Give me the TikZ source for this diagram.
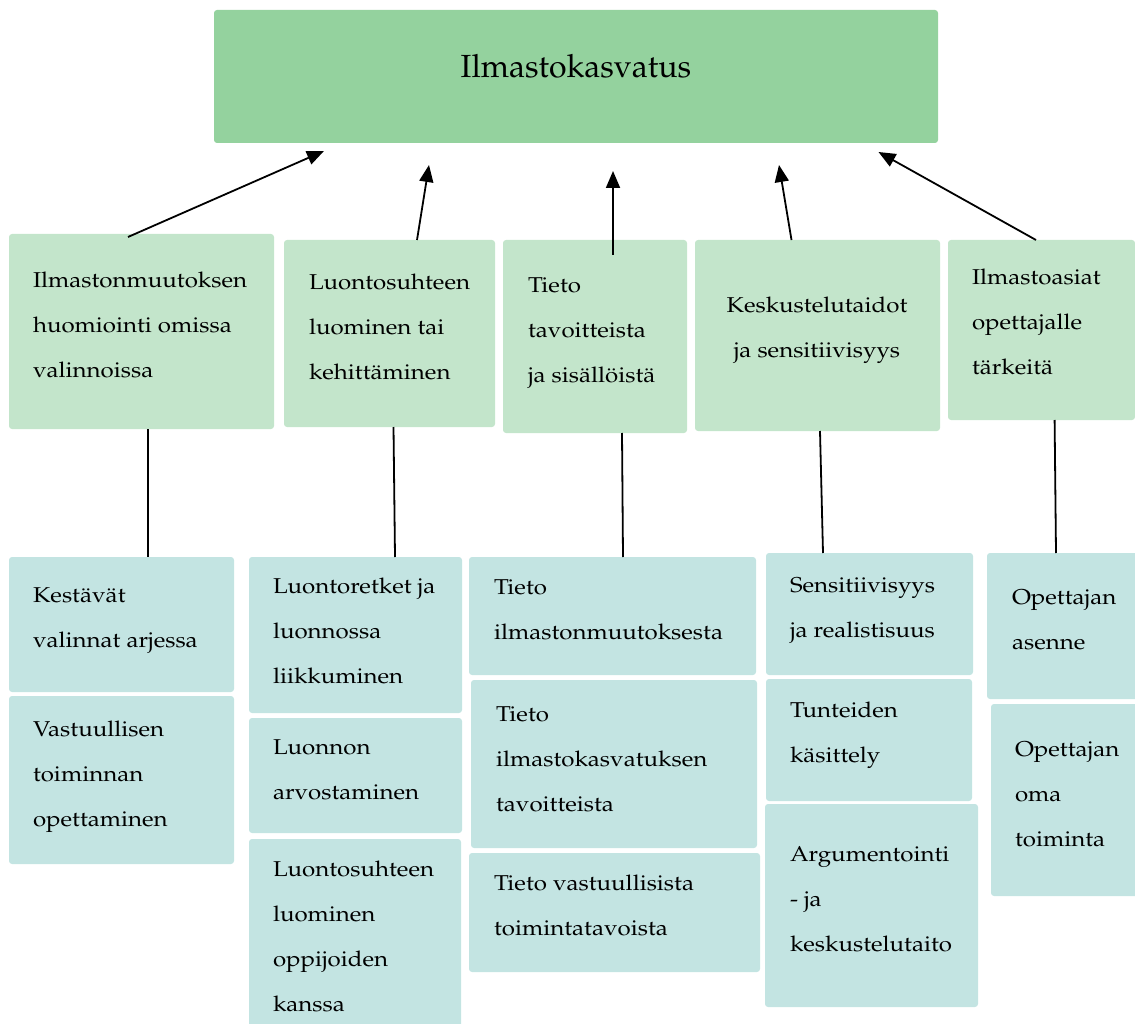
\documentclass[tikz,border=0pt]{standalone}
\usepackage[T1]{fontenc}
\usepackage{graphicx}
\renewcommand{\rmdefault}{ppl}
\usetikzlibrary{arrows.meta}
\definecolor{topgreen}{RGB}{148,210,158}
\definecolor{midgreen}{RGB}{195,229,203}
\definecolor{lowteal}{RGB}{195,228,226}
\tikzset{
  boxbase/.style={rounded corners=3pt, inner sep=0pt, outer sep=0pt, draw=none},
  topbox/.style={boxbase, fill=topgreen},
  catbox/.style={boxbase, fill=midgreen},
  itembox/.style={boxbase, fill=lowteal},
  txt/.style={anchor=north west, inner sep=0pt, outer sep=0pt, font=\fontsize{21.5}{44.7}\selectfont},
  ctxt/.style={txt, anchor=north},
  conn/.style={line width=1.8pt, black},
  arr/.style={conn, -{Triangle[length=17pt,width=14pt]}}
}
\newcommand{\tl}[1]{\scalebox{1.12}[1]{\begin{tabular}{@{}l@{}}#1\end{tabular}}}
\newcommand{\tc}[1]{\scalebox{1.12}[1]{\begin{tabular}{@{}c@{}}#1\end{tabular}}}
\begin{document}
\begin{tikzpicture}[x=1pt,y=-1pt]
\path[use as bounding box, clip] (0,0) rectangle (1135,1024);
% top
\node[topbox, minimum width=724pt, minimum height=133pt] (top) at (576,76.5) {};
\node[anchor=base, inner sep=0pt, font=\fontsize{32}{38}\selectfont] (toptxt) at (576,78) {Ilmastokasvatus};
% row 1
\node[catbox, minimum width=265pt, minimum height=195pt] (c1) at (141.5,331.5) {};
\node[catbox, minimum width=211pt, minimum height=187pt] (c2) at (389.5,333.5) {};
\node[catbox, minimum width=184pt, minimum height=193pt] (c3) at (595,336.5) {};
\node[catbox, minimum width=245pt, minimum height=191pt] (c4) at (817.5,335.5) {};
\node[catbox, minimum width=187pt, minimum height=180pt] (c5) at (1041.5,330) {};
\node[txt] (tc1) at (33,256.7) {\tl{Ilmastonmuutoksen\\huomiointi omissa\\valinnoissa}};
\node[txt] (tc2) at (309,258.7) {\tl{Luontosuhteen\\luominen tai\\kehittäminen}};
\node[txt] (tc3) at (528,261.7) {\tl{Tieto\\tavoitteista\\ja sisällöistä}};
\node[ctxt] (tc4) at (817,281.7) {\tc{Keskustelutaidot\\ja sensitiivisyys}};
\node[txt] (tc5) at (972,253.7) {\tl{Ilmastoasiat\\opettajalle\\tärkeitä}};
% row 2
\node[itembox, minimum width=225pt, minimum height=135pt] (a1) at (121.5,624.5) {};
\node[itembox, minimum width=225pt, minimum height=168pt] (a2) at (121.5,780) {};
\node[itembox, minimum width=213pt, minimum height=156pt] (b1) at (355.5,635) {};
\node[itembox, minimum width=213pt, minimum height=115pt] (b2) at (355.5,775.5) {};
\node[itembox, minimum width=212pt, minimum height=201pt] (b3) at (355,939.5) {};
\node[itembox, minimum width=287pt, minimum height=118pt] (d1) at (612.5,616) {};
\node[itembox, minimum width=286pt, minimum height=168pt] (d2) at (614,764) {};
\node[itembox, minimum width=291pt, minimum height=119pt] (d3) at (614.5,912.5) {};
\node[itembox, minimum width=207pt, minimum height=122pt] (e1) at (869.5,614) {};
\node[itembox, minimum width=206pt, minimum height=122pt] (e2) at (869,740) {};
\node[itembox, minimum width=213pt, minimum height=203pt] (e3) at (871.5,905.5) {};
\node[itembox, minimum width=153pt, minimum height=146pt] (f1) at (1063.5,626) {};
\node[itembox, minimum width=149pt, minimum height=192pt] (f2) at (1065.5,800) {};
\node[txt] (ta1) at (33,571.7) {\tl{Kestävät\\valinnat arjessa}};
\node[txt] (ta2) at (33,705.7) {\tl{Vastuullisen\\toiminnan\\opettaminen}};
\node[txt] (tb1) at (273,562.7) {\tl{Luontoretket ja\\luonnossa\\liikkuminen}};
\node[txt] (tb2) at (273,723.7) {\tl{Luonnon\\arvostaminen}};
\node[txt] (tb3) at (273,845.7) {\tl{Luontosuhteen\\luominen\\oppijoiden\\kanssa}};
\node[txt] (td1) at (494,563.7) {\tl{Tieto\\ilmastonmuutoksesta}};
\node[txt] (td2) at (496,690.7) {\tl{Tieto\\ilmastokasvatuksen\\tavoitteista}};
\node[txt] (td3) at (494,859.7) {\tl{Tieto vastuullisista\\toimintatavoista}};
\node[txt] (te1) at (790,561.7) {\tl{Sensitiivisyys\\ja realistisuus}};
\node[txt] (te2) at (790,686.7) {\tl{Tunteiden\\käsittely}};
\node[txt] (te3) at (790,830.7) {\tl{Argumentointi\\- ja\\keskustelutaito}};
\node[txt] (tf1) at (1012,573.7) {\tl{Opettajan\\asenne}};
\node[txt] (tf2) at (1015,725.7) {\tl{Opettajan\\oma\\toiminta}};
% arrow tips
\coordinate (h1) at (324,151);
\coordinate (h2) at (429,165);
\coordinate (h3) at (613,171);
\coordinate (h4) at (779,165);
\coordinate (h5) at (878.5,152);
\draw[arr] ([xshift=119pt,yshift=-3pt]c1.north west) -- (h1);
\draw[arr] ([xshift=133pt]c2.north west) -- (h2);
\draw[arr] ([xshift=110pt,yshift=-15pt]c3.north west) -- (h3);
\draw[arr] ([xshift=96.5pt]c4.north west) -- (h4);
\draw[arr] ([xshift=88pt]c5.north west) -- (h5);
% lines
\draw[conn] ([xshift=139pt]c1.south west) -- ([xshift=139pt]a1.north west);
\draw[conn] ([xshift=109.5pt]c2.south west) -- ([xshift=146pt]b1.north west);
\draw[conn] ([xshift=119pt]c3.south west) -- ([xshift=154pt]d1.north west);
\draw[conn] ([xshift=125pt]c4.south west) -- ([xshift=57pt]e1.north west);
\draw[conn] ([xshift=106.6pt]c5.south west) -- ([xshift=69pt]f1.north west);
\end{tikzpicture}
\end{document}
